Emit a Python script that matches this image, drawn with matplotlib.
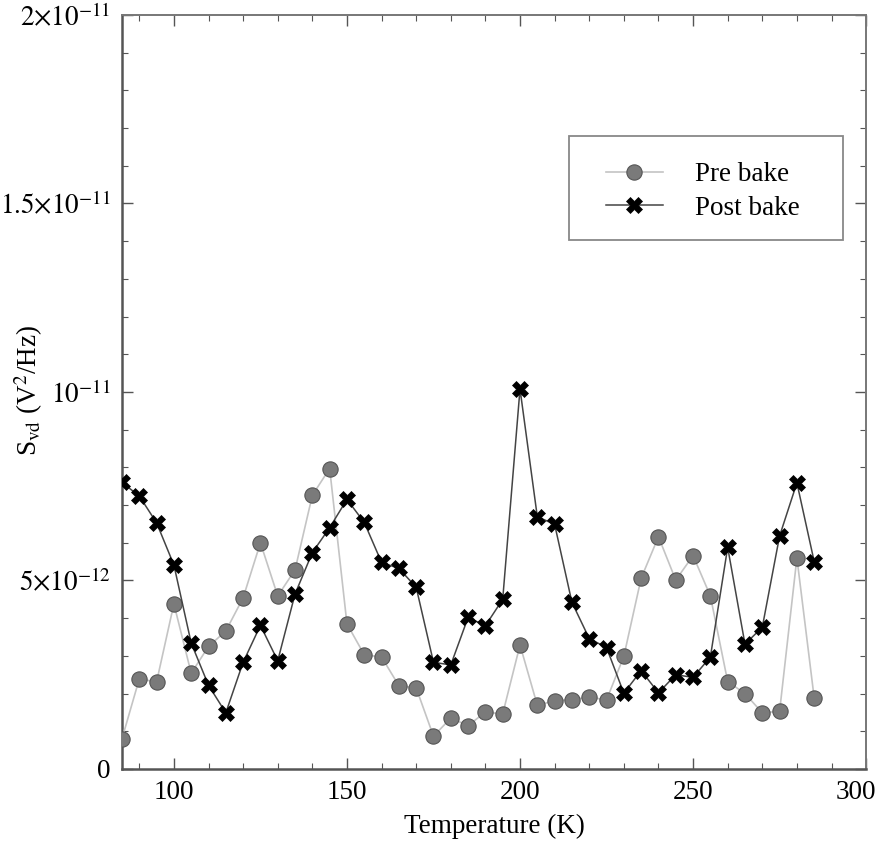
import numpy as np
import matplotlib
matplotlib.use("Agg")
import matplotlib.pyplot as plt
import matplotlib.transforms as mtransforms
from matplotlib.patches import Rectangle
from matplotlib.ticker import FixedLocator, FixedFormatter

plt.rcParams['font.family'] = ['Liberation Serif', 'DejaVu Serif']
plt.rcParams['mathtext.fontset'] = 'stix'

# Temperatura (K)
temperatura = [85, 90, 95, 100, 105, 110, 115, 120, 125, 130, 135, 140, 145, 150,
               155, 160, 165, 170, 175, 180, 185, 190, 195, 200, 205, 210, 215, 220,
               225, 230, 235, 240, 245, 250, 255, 260, 265, 270, 275, 280, 285]

# S_vd em unidades de 1e-12 V^2/Hz
pre_bake = [0.80, 2.39, 2.31, 4.38, 2.54, 3.25, 3.66, 4.54, 6.00, 4.59, 5.28, 7.26,
            7.97, 3.85, 3.03, 2.97, 2.21, 2.15, 0.87, 1.35, 1.15, 1.51, 1.46, 3.29,
            1.69, 1.81, 1.84, 1.91, 1.83, 2.99, 5.06, 6.16, 5.01, 5.66, 4.59, 2.32,
            2.00, 1.49, 1.53, 5.60, 1.88]
post_bake = [7.60, 7.24, 6.53, 5.41, 3.34, 2.22, 1.49, 2.83, 3.81, 2.87, 4.64, 5.74,
             6.40, 7.15, 6.54, 5.48, 5.32, 4.82, 2.83, 2.76, 4.02, 3.80, 4.50, 10.08,
             6.69, 6.49, 4.42, 3.46, 3.22, 2.01, 2.61, 2.02, 2.50, 2.43, 2.97, 5.88,
             3.31, 3.76, 6.18, 7.59, 5.50]

y_ticks = [0, 5e-12, 1e-11, 1.5e-11, 2e-11]
y_tick_labels = ["0", r"$5{\times}10^{-12}$", r"$10^{-11}$",
                 r"$1.5{\times}10^{-11}$", r"$2{\times}10^{-11}$"]
x_ticks = [100, 150, 200, 250, 300]

escala = 1e-12
pre = np.array(pre_bake) * escala
post = np.array(post_bake) * escala

fig = plt.figure(figsize=(8.82, 8.55), dpi=100)
ax = fig.add_axes([0.1383, 0.1006, 0.8437, 0.8819])

ax.plot(temperatura, pre, color='#c4c4c4', linewidth=1.2, marker='o',
        markersize=11, markerfacecolor='#7a7a7a', markeredgecolor='#555555',
        markeredgewidth=0.8, label='Pre bake', zorder=3)
ax.plot(temperatura, post, color='#444444', linewidth=1.1, marker='X',
        markersize=11, markerfacecolor='black', markeredgecolor='black',
        markeredgewidth=0.5, label='Post bake', zorder=4)

ax.set_xlim(85, 300)
ax.set_ylim(0, 2e-11)

ax.xaxis.set_major_locator(FixedLocator(x_ticks))
ax.xaxis.set_minor_locator(FixedLocator(np.arange(90, 300, 10)))
ax.yaxis.set_major_locator(FixedLocator(y_ticks))
ax.yaxis.set_major_formatter(FixedFormatter(y_tick_labels))
ax.yaxis.set_minor_locator(FixedLocator(np.arange(1, 20) * 1e-12))

ax.tick_params(which='both', direction='in', top=True, right=True,
               color='#555555', labelsize=19.5)
ax.tick_params(which='major', length=8, width=1.0, pad=8)
ax.tick_params(which='minor', length=4.5, width=0.8)

for lado in ['left', 'bottom']:
    ax.spines[lado].set_color('#555555')
    ax.spines[lado].set_linewidth(1.8)
for lado in ['top', 'right']:
    ax.spines[lado].set_color('#777777')
    ax.spines[lado].set_linewidth(1.4)

ax.set_xlabel("Temperature (K)", fontsize=19.5, labelpad=6)
ax.set_ylabel(r"S$_{\rm vd}$ (V$^2$/Hz)", fontsize=19.5)
ax.yaxis.set_label_coords(-0.104, 0.502)

# "300" fica dentro da figura, como no original
fig.canvas.draw()
ultimo = ax.get_xticklabels()[-1]
ultimo.set_transform(ultimo.get_transform() +
                     mtransforms.ScaledTranslation(-10 / 100, 0, fig.dpi_scale_trans))

# Legenda sem moldura + moldura desenhada à parte
leg = ax.legend(loc='upper left', bbox_to_anchor=(0.6505, 0.8044), fontsize=19.5,
                frameon=False, handlelength=2.1, handletextpad=1.2, borderpad=0,
                labelspacing=0.3, borderaxespad=0)
ax.add_patch(Rectangle((0.601, 0.702), 0.368, 0.1377, transform=ax.transAxes,
                       facecolor='none', edgecolor='#888888', linewidth=1.3,
                       zorder=5))

fig.savefig("out.png", dpi=100)
